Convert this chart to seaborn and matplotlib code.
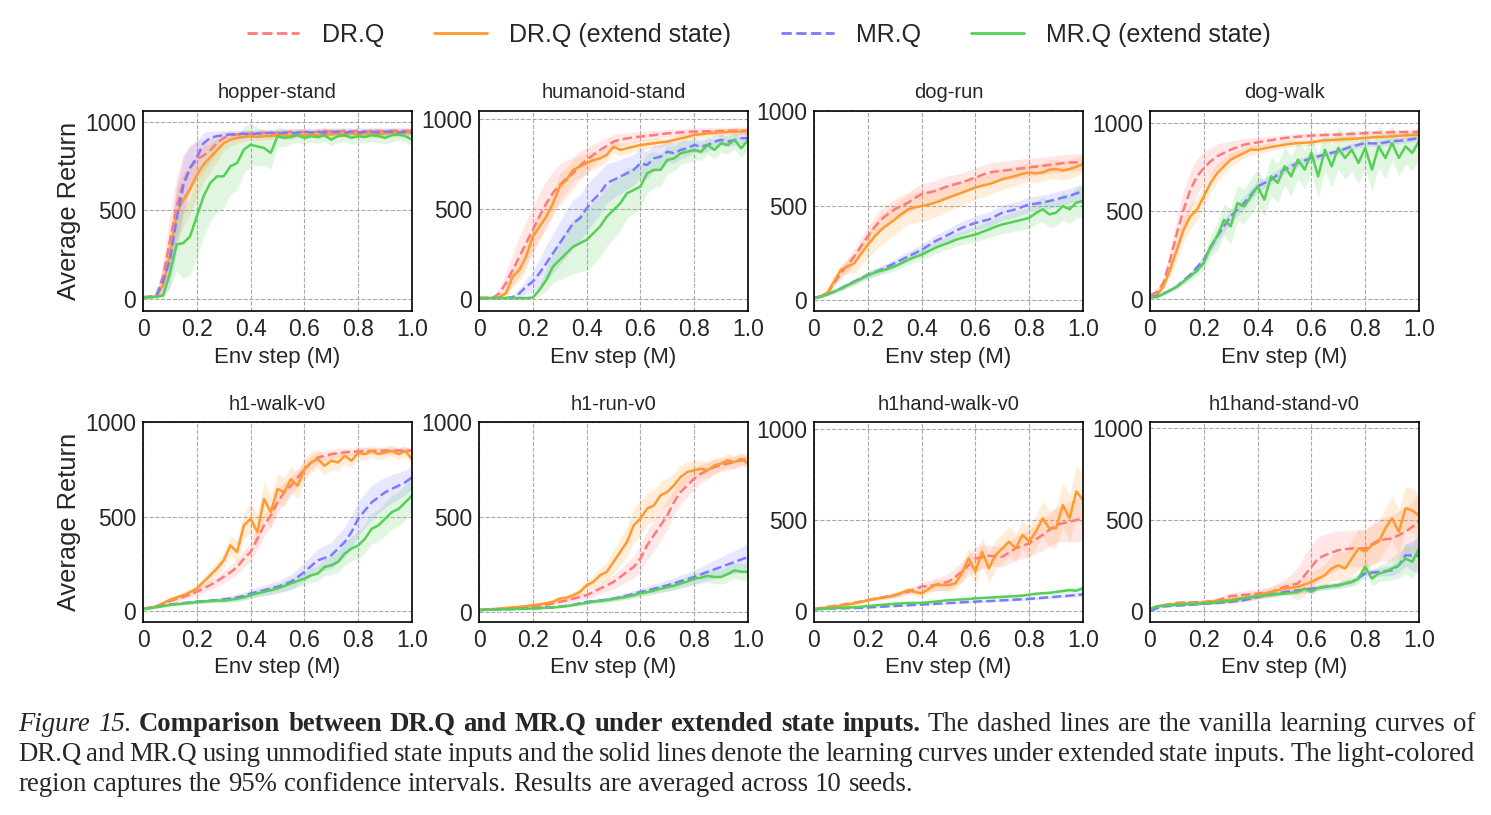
import numpy as np
import pandas as pd
import seaborn as sns
import matplotlib.pyplot as plt
from matplotlib.lines import Line2D

# Env steps (M) at which the curves were read, every 25k steps
env_steps = np.round(np.arange(41) * 0.025, 3)

tasks = ["hopper-stand", "humanoid-stand", "dog-run", "dog-walk",
         "h1-walk-v0", "h1-run-v0", "h1hand-walk-v0", "h1hand-stand-v0"]
methods = ["DR.Q", "DR.Q (extend state)", "MR.Q", "MR.Q (extend state)"]

# ---- hopper-stand
hopper_drq = [10,12,20,130,330,520,660,740,790,810,840,880,910,925,930,930,935,935,940,935,940,940,945,940,945,940,945,950,945,945,950,945,950,945,950,950,945,950,950,950,950]
hopper_drq_ci = [5,5,10,80,150,170,160,130,110,90,70,50,35,25,20,20,20,20,20,20,20,20,20,20,20,20,20,20,20,20,20,20,20,20,20,20,20,20,20,20,20]
hopper_drqx = [10,10,15,80,250,480,560,620,700,760,800,840,880,900,910,915,920,915,920,920,925,925,920,930,925,930,925,930,930,935,930,935,930,935,935,930,935,940,935,940,940]
hopper_drqx_ci = [5,5,10,60,130,150,150,140,120,100,80,60,45,35,30,25,25,20,20,20,20,20,20,20,20,20,20,20,20,20,20,20,20,20,20,20,20,20,20,20,20]
hopper_mrq = [10,12,20,100,220,450,640,740,800,880,910,920,925,930,930,935,930,935,935,940,935,940,935,940,945,940,945,940,945,945,940,945,940,945,945,940,945,945,940,945,940]
hopper_mrq_ci = [5,5,10,80,150,180,160,120,90,60,40,30,25,20,20,20,20,20,20,20,20,20,20,20,20,20,20,20,20,20,20,20,20,20,20,20,20,20,20,20,20]
hopper_mrqx = [10,10,12,20,145,307,316,354,467,580,655,693,693,750,768,844,872,862,853,825,919,910,915,925,910,920,915,925,900,920,925,910,920,915,925,920,910,925,930,920,900]
hopper_mrqx_ci = [5,5,8,20,80,150,200,220,230,230,220,200,180,160,150,130,120,110,100,90,60,50,40,40,35,35,35,35,35,35,35,35,35,35,35,35,35,35,35,35,35]

# ---- humanoid-stand
humanoid_drq = [5,5,5,30,87,160,235,310,383,460,531,590,633,670,698,740,772,800,828,850,874,885,892,898,902,906,910,915,920,922,925,928,930,931,932,932,933,934,935,935,935]
humanoid_drq_ci = [3,3,5,30,60,90,110,120,130,130,125,120,115,100,90,80,70,60,50,45,40,35,30,30,25,25,25,20,20,20,20,20,20,20,20,20,20,20,20,20,20]
humanoid_drqx = [5,5,5,10,31,124,161,235,346,402,457,531,624,661,717,735,754,772,781,800,846,828,837,846,855,860,865,870,874,883,892,900,911,915,920,923,926,928,930,930,930]
humanoid_drqx_ci = [3,3,3,10,30,50,60,70,70,70,70,70,70,65,60,60,55,50,45,40,35,35,30,30,30,25,25,25,20,20,20,20,20,20,20,20,20,20,20,20,20]
humanoid_mrq = [5,5,5,5,5,10,31,68,96,143,198,254,309,365,420,448,504,550,587,643,661,680,698,717,754,744,781,790,818,809,828,837,855,846,855,874,883,874,883,893,893]
humanoid_mrq_ci = [3,3,3,3,3,10,25,40,60,80,100,110,120,130,130,130,130,125,120,110,100,95,90,85,80,75,70,65,60,55,50,45,40,40,35,35,30,30,30,30,30]
humanoid_mrqx = [5,5,5,5,5,5,5,5,8,50,105,180,217,254,290,309,328,365,402,457,494,531,587,605,624,698,717,717,772,781,809,818,828,818,855,828,865,855,883,837,883]
humanoid_mrqx_ci = [3,3,3,3,3,3,3,3,5,30,60,90,110,130,150,160,170,170,170,165,160,150,140,130,120,110,100,90,80,70,65,60,55,50,50,50,50,50,50,50,50]

# ---- dog-run
dogrun_drq = [10,20,35,90,142,185,231,285,337,385,426,455,480,498,515,540,560,568,577,590,604,613,622,635,648,662,675,680,684,688,693,697,702,706,710,715,719,724,728,728,728]
dogrun_drq_ci = [5,8,10,20,30,35,40,45,50,55,55,55,55,55,55,55,55,55,55,55,55,50,50,50,50,50,50,50,50,50,50,50,50,45,45,45,45,45,45,45,45]
dogrun_drqx = [10,20,40,100,160,178,195,245,293,335,373,400,426,455,480,490,497,505,515,528,542,555,568,582,595,605,613,625,639,648,657,668,675,670,675,690,693,685,693,705,719]
dogrun_drqx_ci = [5,8,10,20,30,40,50,60,70,75,80,80,80,80,80,80,80,80,75,75,70,70,65,65,60,60,55,55,55,55,50,50,50,50,50,50,50,50,50,50,50]
dogrun_mrq = [10,18,30,45,62,80,98,115,133,147,160,178,195,213,231,248,266,288,311,328,346,364,382,395,408,417,426,444,462,471,480,493,506,510,515,524,533,542,551,564,577]
dogrun_mrq_ci = [3,5,8,10,12,14,15,16,18,20,20,22,24,25,26,28,30,30,32,32,34,34,36,36,38,38,40,40,40,40,40,40,40,40,40,40,40,40,40,40,40]
dogrun_mrqx = [10,18,30,45,60,78,95,112,130,145,155,165,178,195,213,228,240,258,275,290,302,318,329,338,346,360,373,388,400,408,417,425,435,460,480,453,462,497,480,515,524]
dogrun_mrqx_ci = [3,5,8,10,12,14,15,16,18,20,20,22,24,25,26,28,30,30,32,32,34,35,36,38,40,42,44,46,48,50,52,54,56,60,65,70,70,75,75,80,80]

# ---- dog-walk
dogwalk_drq = [20,40,91,223,375,508,621,697,744,782,811,830,848,863,877,884,890,896,902,908,915,918,922,925,928,930,932,933,934,936,938,940,943,944,945,946,947,948,948,949,949]
dogwalk_drq_ci = [10,15,30,60,90,110,110,100,90,80,70,60,50,40,35,30,28,25,22,20,20,20,18,18,18,18,15,15,15,15,15,15,15,15,15,15,15,15,15,15,15]
dogwalk_drqx = [10,20,72,167,280,394,470,508,583,659,716,754,792,811,830,848,848,856,864,870,877,882,886,888,890,896,902,904,905,908,910,912,915,918,920,922,924,927,930,932,934]
dogwalk_drqx_ci = [5,10,20,40,60,70,70,65,60,55,50,45,40,35,30,30,28,25,22,20,20,20,18,18,18,18,15,15,15,15,15,15,15,15,15,15,15,15,15,15,15]
dogwalk_mrq = [10,18,30,50,72,105,138,180,223,290,356,413,470,508,545,592,640,659,678,706,735,754,773,787,801,810,820,830,839,853,867,876,886,884,883,890,896,899,902,908,915]
dogwalk_mrq_ci = [3,5,8,10,12,15,18,22,26,30,34,36,38,38,38,36,34,32,30,28,26,24,22,20,20,20,18,18,18,18,18,18,18,18,18,18,18,18,18,18,18]
dogwalk_mrqx = [10,10,30,50,70,100,130,160,205,299,356,450,413,545,527,583,640,564,697,659,754,697,792,735,830,697,848,754,858,801,848,773,858,735,867,801,886,801,867,830,896]
dogwalk_mrqx_ci = [3,5,8,10,15,20,25,30,40,60,80,90,100,100,100,100,100,100,110,110,110,110,110,110,110,120,120,120,120,120,120,120,120,120,120,120,100,100,100,100,100]

# ---- h1-walk-v0
h1walk_drq = [10,18,25,38,53,64,75,88,102,120,137,158,181,205,233,277,312,382,453,505,575,628,663,707,751,786,812,821,830,835,839,842,844,846,847,848,849,849,849,849,849]
h1walk_drq_ci = [5,5,8,10,12,14,16,18,20,22,25,28,32,36,40,45,50,55,60,60,60,55,50,45,40,35,30,28,25,22,20,20,20,18,18,18,18,18,18,18,18]
h1walk_drqx = [10,18,25,42,60,72,84,100,119,154,189,225,268,347,312,453,488,418,593,523,646,628,698,663,751,786,804,768,795,786,821,795,839,830,847,830,839,847,830,847,804]
h1walk_drqx_ci = [5,5,8,10,12,14,16,18,20,25,30,35,40,50,60,70,80,90,90,90,80,80,70,70,60,55,50,50,50,45,40,40,35,35,30,30,30,30,30,30,30]
h1walk_mrq = [10,15,22,28,35,38,42,46,50,52,55,58,62,66,72,80,93,101,110,119,128,141,154,180,207,238,268,281,295,330,365,418,488,532,575,602,628,646,663,681,707]
h1walk_mrq_ci = [3,3,4,5,6,7,8,9,10,10,10,12,14,16,18,20,22,24,26,28,30,35,40,45,50,55,60,65,70,75,80,85,90,90,90,85,80,75,70,65,60]
h1walk_mrqx = [10,15,20,26,32,36,40,43,47,50,53,56,55,60,65,72,84,93,102,110,119,132,146,159,172,189,198,233,242,260,304,330,347,382,435,453,488,523,540,575,610]
h1walk_mrqx_ci = [3,3,4,5,6,7,8,9,10,10,10,12,12,14,15,16,18,20,22,24,26,28,30,32,35,38,40,45,50,55,60,65,70,75,80,85,90,90,90,90,90]

# ---- h1-run-v0
h1run_drq = [10,11,13,15,18,20,22,24,28,32,38,45,53,60,70,78,88,105,123,140,158,184,211,237,281,351,404,456,509,579,632,667,702,728,746,763,772,781,789,798,807]
h1run_drq_ci = [3,3,3,4,5,5,6,6,7,8,9,10,12,14,16,18,20,24,28,32,36,42,50,60,70,75,80,80,75,70,65,60,55,50,45,40,35,35,30,30,30]
h1run_drqx = [10,12,15,18,21,24,27,31,35,40,46,54,70,75,88,105,140,158,193,211,263,316,368,456,491,544,561,614,632,667,711,737,746,754,746,772,781,798,789,807,781]
h1run_drqx_ci = [3,3,3,4,5,5,6,6,7,8,9,10,12,14,18,22,26,32,40,50,60,70,80,90,90,85,80,75,70,65,60,55,50,45,40,40,35,35,35,35,35]
h1run_mrq = [10,11,12,13,14,15,16,17,18,20,22,24,28,32,38,45,53,56,60,65,70,78,86,95,105,113,122,131,140,150,162,172,184,197,211,224,237,250,263,276,289]
h1run_mrq_ci = [2,2,2,2,3,3,3,4,4,4,5,5,6,6,7,8,9,10,11,12,13,14,16,18,20,22,24,26,28,30,32,34,36,40,44,48,52,56,60,65,70]
h1run_mrqx = [10,11,12,13,14,15,16,17,18,20,22,24,27,31,36,42,48,54,58,63,68,74,80,88,98,104,112,122,130,138,150,160,175,180,190,184,184,200,219,211,211]
h1run_mrqx_ci = [2,2,2,2,3,3,3,4,4,4,5,5,6,6,7,8,9,10,11,12,13,14,15,16,17,18,19,20,22,24,26,28,30,32,34,36,38,40,42,44,46]

# ---- h1hand-walk-v0
h1hwalk_drq = [10,17,23,28,33,40,46,53,60,67,74,81,88,97,106,120,134,138,143,152,161,188,216,252,289,296,304,300,298,321,344,358,372,395,418,445,473,482,491,500,509]
h1hwalk_drq_ci = [3,3,3,4,5,5,6,7,8,9,10,12,14,16,18,20,25,30,35,40,45,50,55,60,65,65,60,55,55,60,65,70,75,80,85,90,95,100,110,120,130]
h1hwalk_drqx = [10,15,20,25,30,36,42,50,60,67,72,78,85,100,115,105,97,120,143,143,143,152,207,289,216,326,234,308,344,381,344,418,381,436,509,454,454,582,509,656,610]
h1hwalk_drqx_ci = [3,3,3,4,5,5,6,7,8,9,10,12,14,16,18,20,22,25,28,30,35,40,50,60,70,80,80,80,80,80,80,80,85,90,95,100,110,120,130,140,150]
h1hwalk_mrq = [10,11,13,14,15,16,17,18,20,22,24,26,28,30,32,34,36,38,40,42,44,46,48,50,52,54,55,57,59,61,63,65,67,70,73,76,79,82,85,88,92]
h1hwalk_mrq_ci = [2,2,2,2,2,3,3,3,3,3,4,4,4,4,4,5,5,5,5,5,6,6,6,6,6,7,7,7,7,7,8,8,8,8,8,9,9,9,10,10,10]
h1hwalk_mrqx = [10,12,14,16,18,20,22,24,28,31,34,37,40,42,44,45,45,48,52,56,60,62,64,66,70,72,74,76,78,80,82,85,90,95,98,100,105,110,115,112,125]
h1hwalk_mrqx_ci = [2,2,2,2,2,3,3,3,3,3,4,4,4,4,4,5,5,5,5,5,6,6,6,6,6,7,7,7,8,8,8,9,9,10,10,11,12,13,14,15,16]

# ---- h1hand-stand-v0
h1hstand_drq = [10,25,32,38,45,46,47,48,49,54,58,70,82,85,88,92,95,100,104,118,132,141,150,195,241,287,305,319,333,338,342,342,342,365,388,392,397,415,433,460,488]
h1hstand_drq_ci = [3,5,6,7,8,9,10,11,12,13,14,16,18,20,22,24,26,28,30,35,40,60,90,110,120,120,115,110,105,100,100,100,105,110,115,120,125,130,135,140,150]
h1hstand_drqx = [10,25,30,35,40,41,42,43,45,50,55,58,62,68,72,78,86,95,105,114,122,127,132,145,159,177,196,232,250,232,287,342,324,360,378,452,506,433,561,550,520]
h1hstand_drqx_ci = [3,4,5,6,7,8,9,10,11,12,13,14,16,18,20,22,24,26,28,30,32,35,40,45,50,55,60,70,80,90,100,110,110,110,110,110,120,120,120,120,120]
h1hstand_mrq = [0,15,25,28,30,32,34,37,40,42,44,47,50,55,60,68,77,84,90,97,104,108,113,118,122,127,132,136,141,150,159,182,205,210,214,218,223,250,305,303,302]
h1hstand_mrq_ci = [3,4,5,5,6,6,6,7,7,7,8,8,8,9,9,10,10,10,11,11,12,12,12,13,13,14,14,15,15,16,16,17,18,20,22,25,30,40,60,80,100]
h1hstand_mrqx = [10,25,30,32,35,37,39,40,42,45,48,52,55,62,70,75,80,85,90,93,95,100,104,122,104,126,132,136,141,150,159,177,241,177,205,214,232,250,287,269,342]
h1hstand_mrqx_ci = [3,4,5,5,6,6,6,7,7,7,8,8,8,9,9,10,10,10,11,11,12,12,13,14,15,16,17,18,20,22,25,30,35,40,45,50,60,70,80,90,100]

curves = {
    "hopper-stand": [(hopper_drq, hopper_drq_ci), (hopper_drqx, hopper_drqx_ci), (hopper_mrq, hopper_mrq_ci), (hopper_mrqx, hopper_mrqx_ci)],
    "humanoid-stand": [(humanoid_drq, humanoid_drq_ci), (humanoid_drqx, humanoid_drqx_ci), (humanoid_mrq, humanoid_mrq_ci), (humanoid_mrqx, humanoid_mrqx_ci)],
    "dog-run": [(dogrun_drq, dogrun_drq_ci), (dogrun_drqx, dogrun_drqx_ci), (dogrun_mrq, dogrun_mrq_ci), (dogrun_mrqx, dogrun_mrqx_ci)],
    "dog-walk": [(dogwalk_drq, dogwalk_drq_ci), (dogwalk_drqx, dogwalk_drqx_ci), (dogwalk_mrq, dogwalk_mrq_ci), (dogwalk_mrqx, dogwalk_mrqx_ci)],
    "h1-walk-v0": [(h1walk_drq, h1walk_drq_ci), (h1walk_drqx, h1walk_drqx_ci), (h1walk_mrq, h1walk_mrq_ci), (h1walk_mrqx, h1walk_mrqx_ci)],
    "h1-run-v0": [(h1run_drq, h1run_drq_ci), (h1run_drqx, h1run_drqx_ci), (h1run_mrq, h1run_mrq_ci), (h1run_mrqx, h1run_mrqx_ci)],
    "h1hand-walk-v0": [(h1hwalk_drq, h1hwalk_drq_ci), (h1hwalk_drqx, h1hwalk_drqx_ci), (h1hwalk_mrq, h1hwalk_mrq_ci), (h1hwalk_mrqx, h1hwalk_mrqx_ci)],
    "h1hand-stand-v0": [(h1hstand_drq, h1hstand_drq_ci), (h1hstand_drqx, h1hstand_drqx_ci), (h1hstand_mrq, h1hstand_mrq_ci), (h1hstand_mrqx, h1hstand_mrqx_ci)],
}

# Build one long table
rows = []
for task in tasks:
    for method, (mean, ci) in zip(methods, curves[task]):
        for s, m, c in zip(env_steps, mean, ci):
            rows.append({"task": task, "method": method, "step": s, "ret": m, "ci": c})
df = pd.DataFrame(rows)

colors = {"DR.Q": "#ff7b7b", "DR.Q (extend state)": "#ff9a2e",
          "MR.Q": "#7b7bff", "MR.Q (extend state)": "#55d055"}
dashes = {"DR.Q": (3.7, 1.6), "DR.Q (extend state)": "",
          "MR.Q": (3.7, 1.6), "MR.Q (extend state)": ""}

# per-panel y limits, as in the original
ylims = [(-68, 1062), (-67, 1044), (-58, 1000), (-68, 1068),
         (-58, 1000), (-53, 1000), (-60, 1038), (-60, 1033)]

sns.set_style("whitegrid", {"grid.linestyle": "--", "grid.color": "#a8a8a8",
                            "axes.edgecolor": "black"})
plt.rcParams['font.family'] = ['Liberation Sans', 'DejaVu Sans']

W, H = 1491, 815
fig = plt.figure(figsize=(W / 100, H / 100), dpi=100)

lefts = [143, 479, 814, 1150]
tops = [111, 422]
aw, ah = 269, 200

for i, task in enumerate(tasks):
    r, c = divmod(i, 4)
    ax = fig.add_axes([lefts[c] / W, (H - tops[r] - ah) / H, aw / W, ah / H])
    sub = df[df["task"] == task]
    for method in methods:
        d = sub[sub["method"] == method]
        ax.fill_between(d["step"], d["ret"] - d["ci"], d["ret"] + d["ci"],
                        color=colors[method], alpha=0.18, lw=0)
    sns.lineplot(data=sub, x="step", y="ret", hue="method", style="method",
                 hue_order=methods, style_order=methods, palette=colors,
                 dashes=dashes, linewidth=1.8, legend=False, ax=ax,
                 errorbar=None)
    ax.set_xlim(0, 1)
    ax.set_ylim(*ylims[i])
    ax.set_xticks([0, 0.2, 0.4, 0.6, 0.8, 1.0])
    ax.set_xticklabels(["0", "0.2", "0.4", "0.6", "0.8", "1.0"])
    ax.set_yticks([0, 500, 1000])
    ax.tick_params(length=0, labelsize=16.5, pad=5)
    ax.grid(True, linestyle="--", linewidth=0.8, color="#a8a8a8")
    for sp in ax.spines.values():
        sp.set_color("black")
        sp.set_linewidth(1.2)
    ax.set_title(task, fontsize=14.5, pad=9)
    ax.set_xlabel("Env step (M)", fontsize=16, labelpad=4)
    if c == 0:
        ax.set_ylabel("Average Return", fontsize=18.3, labelpad=3)
    else:
        ax.set_ylabel("")

# legend on top
handles = [Line2D([], [], color=colors[m], lw=2,
                  linestyle="--" if dashes[m] else "-") for m in methods]
fig.legend(handles, methods, loc="center", bbox_to_anchor=(759 / W, 1 - 35 / H),
           ncol=4, frameon=False, fontsize=18, handlelength=2.1,
           handletextpad=0.9, columnspacing=2.0)

# caption, justified like the paper
renderer = fig.canvas.get_renderer()
serif = "Liberation Serif"
cap_size = 19.3
x_left, x_right = 18, 1475

def put_line(tokens, baseline, justify):
    items = []
    for word, style in tokens:
        t = fig.text(0, 1 - baseline / H, word, fontsize=cap_size, family=serif,
                     va="baseline", ha="left", **style)
        items.append(t)
    widths = [t.get_window_extent(renderer).width for t in items]
    if justify and len(items) > 1:
        gap = (x_right - x_left - sum(widths)) / (len(items) - 1)
    else:
        gap = 0.25 * cap_size * 100 / 72
    x = x_left
    for t, w in zip(items, widths):
        t.set_x(x / W)
        x += w + gap

italic = {"style": "italic"}
bold = {"weight": "bold"}
normal = {}

line1 = [("Figure", italic), ("15.", italic)] + \
    [(w, bold) for w in "Comparison between DR.Q and MR.Q under extended state inputs.".split()] + \
    [(w, normal) for w in "The dashed lines are the vanilla learning curves of".split()]
line2 = [(w, normal) for w in ("DR.Q and MR.Q using unmodified state inputs and the solid lines denote "
                               "the learning curves under extended state inputs. The light-colored").split()]
line3 = [(w, normal) for w in "region captures the 95% confidence intervals. Results are averaged across 10 seeds.".split()]

put_line(line1, 731, True)
put_line(line2, 761, True)
put_line(line3, 791, False)

fig.savefig("out.png", dpi=100)
